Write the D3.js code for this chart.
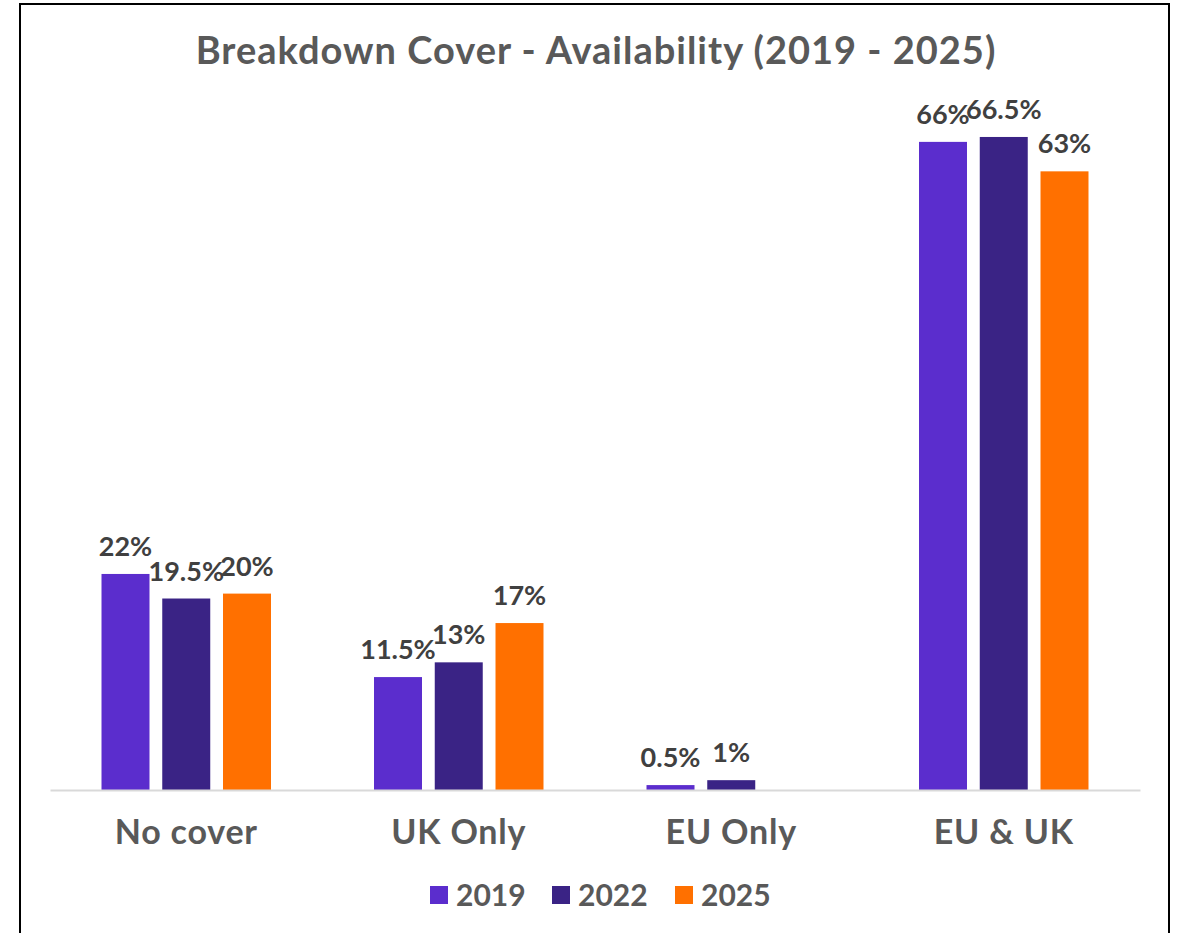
<!DOCTYPE html>
<html>
<head>
<meta charset="utf-8">
<script src="https://cdn.jsdelivr.net/npm/d3@7"></script>
<style>
  html, body { margin: 0; padding: 0; background: #fff; }
  svg { display: block; }
  text { font-family: Lato, "Open Sans", sans-serif; font-weight: bold; }
</style>
</head>
<body>
<svg id="chart" width="1181" height="933"></svg>
<script>
const categories = ["No cover", "UK Only", "EU Only", "EU & UK"];
const seriesNames = ["2019", "2022", "2025"];
const values2019 = [22, 11.5, 0.5, 66];
const values2022 = [19.5, 13, 1, 66.5];
const values2025 = [20, 17, null, 63];
const labels2019 = ["22%", "11.5%", "0.5%", "66%"];
const labels2022 = ["19.5%", "13%", "1%", "66.5%"];
const labels2025 = ["20%", "17%", "", "63%"];
const colors = ["#5B2DCD", "#3A2385", "#FF7000"];
const titleText = "Breakdown Cover - Availability (2019 - 2025)";

const seriesValues = [values2019, values2022, values2025];
const seriesLabels = [labels2019, labels2022, labels2025];

const svg = d3.select("#chart");

// outer frame
svg.append("rect")
  .attr("x", 20).attr("y", 4)
  .attr("width", 1149).attr("height", 960)
  .attr("fill", "#fff")
  .attr("stroke", "#000").attr("stroke-width", 2);

// title
svg.append("text")
  .attr("x", 596).attr("y", 64)
  .attr("text-anchor", "middle")
  .attr("font-size", 38)
  .attr("letter-spacing", 1)
  .attr("fill", "#595959")
  .text(titleText);

const x0 = d3.scaleBand()
  .domain(categories)
  .range([50, 1140])
  .paddingInner(0.378)
  .paddingOuter(0.189);

const x1 = d3.scaleBand()
  .domain(seriesNames)
  .range([0, x0.bandwidth()])
  .paddingInner(0.21)
  .paddingOuter(0);

const y = d3.scaleLinear()
  .domain([0, 70])
  .range([790, 102.6]);

// bars
const data = [];
categories.forEach((c, ci) => {
  seriesNames.forEach((s, si) => {
    const v = seriesValues[si][ci];
    if (v !== null && v !== undefined) {
      data.push({ cat: c, series: s, si, value: v, label: seriesLabels[si][ci] });
    }
  });
});

const g = svg.append("g");
g.selectAll("rect.bar")
  .data(data)
  .enter().append("rect")
  .attr("class", "bar")
  .attr("x", d => x0(d.cat) + x1(d.series))
  .attr("y", d => y(d.value))
  .attr("width", x1.bandwidth())
  .attr("height", d => y(0) - y(d.value))
  .attr("fill", d => colors[d.si]);

// value labels
g.selectAll("text.val")
  .data(data)
  .enter().append("text")
  .attr("class", "val")
  .attr("x", d => x0(d.cat) + x1(d.series) + x1.bandwidth() / 2)
  .attr("y", d => y(d.value) - 18)
  .attr("text-anchor", "middle")
  .attr("font-size", 27)
  .attr("fill", "#404040")
  .text(d => d.label);

// baseline axis
const xAxis = d3.axisBottom(x0).tickSize(0).tickPadding(30);
const axisG = svg.append("g")
  .attr("transform", `translate(0,${y(0)})`)
  .call(xAxis);
axisG.select(".domain").attr("stroke", "#d9d9d9").attr("stroke-width", 2);
axisG.selectAll(".tick text")
  .attr("font-family", "Lato, sans-serif")
  .attr("font-weight", "bold")
  .attr("font-size", 34)
  .attr("letter-spacing", 0.8)
  .attr("fill", "#595959")
  .attr("dy", "0.71em")
  .attr("y", 30);

// legend
const legendX = [430, 552, 675];
const legend = svg.append("g");
seriesNames.forEach((s, i) => {
  legend.append("rect")
    .attr("x", legendX[i]).attr("y", 886)
    .attr("width", 18).attr("height", 18)
    .attr("fill", colors[i]);
  legend.append("text")
    .attr("x", legendX[i] + 26).attr("y", 906)
    .attr("font-size", 30)
    .attr("fill", "#595959")
    .text(s);
});
</script>
</body>
</html>
